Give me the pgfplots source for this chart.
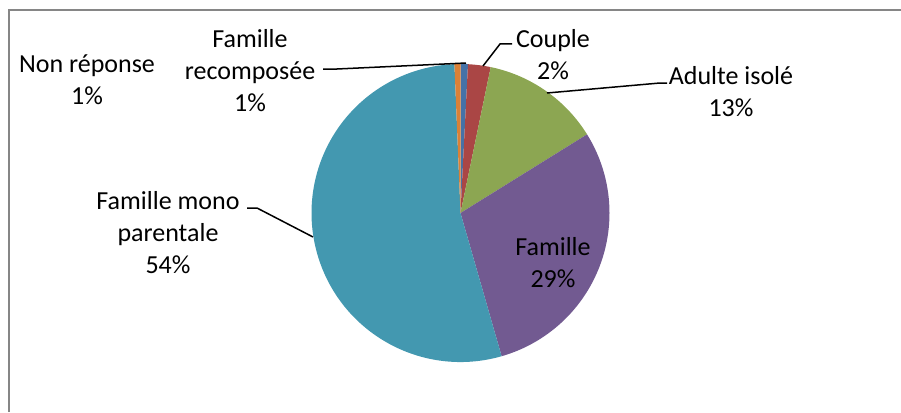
\documentclass[border=0pt]{standalone}
\usepackage{pgfplots}
\usepackage{pgfplotstable}
\pgfplotsset{compat=1.18}
\usepackage{fontspec}
\setmainfont{Carlito}

\definecolor{cRecomp}{RGB}{69,114,167}
\definecolor{cCouple}{RGB}{170,70,69}
\definecolor{cAdulte}{RGB}{140,166,82}
\definecolor{cFamille}{RGB}{114,90,145}
\definecolor{cMono}{RGB}{67,152,176}
\definecolor{cNonrep}{RGB}{218,129,55}
\definecolor{frame}{RGB}{134,134,134}

% shares in percent, clockwise from 12 o'clock
\pgfplotstableread{
label value
recomp 0.8
couple 2.45
adulte 12.9
famille 29.4
mono 53.8
nonrep 0.65
}\piedata

\newcommand\getval[2]{\pgfplotstablegetelem{#1}{value}\of\piedata\global\let#2\pgfplotsretval}
\getval{0}\vA \getval{1}\vB \getval{2}\vC
\getval{3}\vD \getval{4}\vE \getval{5}\vF
% slice boundaries (degrees, counter-clockwise from east)
\pgfmathsetmacro\sA{90}
\pgfmathsetmacro\sB{\sA-3.6*\vA}
\pgfmathsetmacro\sC{\sB-3.6*\vB}
\pgfmathsetmacro\sD{\sC-3.6*\vC}
\pgfmathsetmacro\sE{\sD-3.6*\vD}
\pgfmathsetmacro\sF{\sE-3.6*\vE}
\pgfmathsetmacro\sG{\sF-3.6*\vF}

\begin{document}
\begin{tikzpicture}[font=\fontsize{26}{32}\selectfont]
\begin{axis}[
  width=901pt, height=412pt, scale only axis,
  xmin=0, xmax=901, ymin=0, ymax=412, y dir=reverse,
  hide axis, clip=false]
\coordinate (bl) at (axis cs:0,412);
\coordinate (tr) at (axis cs:901,0);
\draw[frame, line width=2pt] (axis cs:9,412) -- (axis cs:9,10) -- (axis cs:901,10);

\fill[cRecomp]  (axis cs:460.5,213) -- ++(\sA:149pt) arc[start angle=\sA, end angle=\sB, radius=149pt] -- cycle;
\fill[cCouple]  (axis cs:460.5,213) -- ++(\sB:149pt) arc[start angle=\sB, end angle=\sC, radius=149pt] -- cycle;
\fill[cAdulte]  (axis cs:460.5,213) -- ++(\sC:149pt) arc[start angle=\sC, end angle=\sD, radius=149pt] -- cycle;
\fill[cFamille] (axis cs:460.5,213) -- ++(\sD:149pt) arc[start angle=\sD, end angle=\sE, radius=149pt] -- cycle;
\fill[cMono]    (axis cs:460.5,213) -- ++(\sE:149pt) arc[start angle=\sE, end angle=\sF, radius=149pt] -- cycle;
\fill[cNonrep]  (axis cs:460.5,213) -- ++(\sF:149pt) arc[start angle=\sF, end angle=\sG, radius=149pt] -- cycle;

% leader lines
\draw[line width=1.5pt] (axis cs:323,69) -- (axis cs:337,69) -- (axis cs:466,63);
\draw[line width=1.5pt] (axis cs:512,44) -- (axis cs:500,44) -- (axis cs:483,66);
\draw[line width=1.5pt] (axis cs:667,83) -- (axis cs:660,83) -- (axis cs:547,93);
\draw[line width=1.5pt] (axis cs:247,208) -- (axis cs:257,208) -- (axis cs:313,237);

\node[align=center, inner sep=0pt] at (axis cs:87,80) {Non réponse\\1\%};
\node[align=center, inner sep=0pt] at (axis cs:250,71) {Famille\\recomposée\\1\%};
\node[align=center, inner sep=0pt] at (axis cs:553,55) {Couple\\2\%};
\node[align=center, inner sep=0pt] at (axis cs:731,92) {Adulte isolé\\13\%};
\node[align=center, inner sep=0pt] at (axis cs:168,233) {Famille mono\\parentale\\54\%};
\node[align=center, inner sep=0pt] at (axis cs:553,263) {Famille\\29\%};
\end{axis}
\pgfresetboundingbox
\path[use as bounding box] (bl) rectangle (tr);
\end{tikzpicture}
\end{document}
